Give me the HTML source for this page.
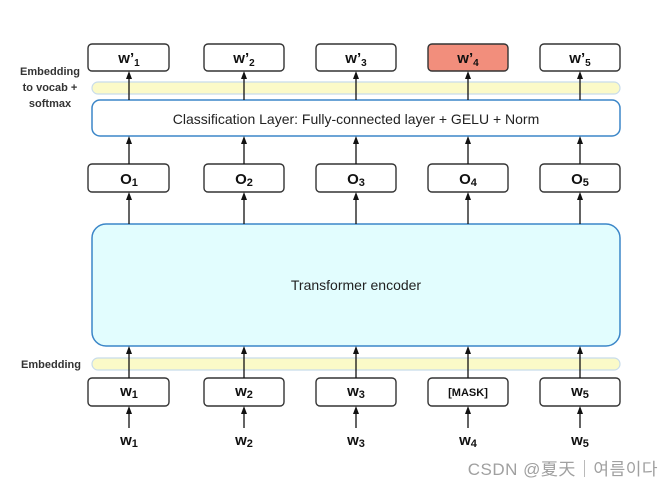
<!DOCTYPE html>
<html><head><meta charset="utf-8"><style>
body{margin:0;background:#fff;}
svg text{font-family:"Liberation Sans",sans-serif;}
</style></head><body>
<svg width="672" height="488" viewBox="0 0 672 488" xmlns="http://www.w3.org/2000/svg">
<defs><marker id="a" markerWidth="8" markerHeight="8" refX="4" refY="4" orient="auto" markerUnits="userSpaceOnUse"><path d="M0,1 L8,4 L0,7 z" fill="#111"/></marker></defs>
<rect width="672" height="488" fill="#fff"/>
<rect x="92" y="82" width="528" height="12" rx="6" fill="#fbfac8" stroke="#c8dceb" stroke-width="1.2"/>
<rect x="92" y="358" width="528" height="12" rx="6" fill="#fbfac8" stroke="#c8dceb" stroke-width="1.2"/>
<rect x="92" y="100" width="528" height="36" rx="8" fill="#fff" stroke="#3b86c8" stroke-width="1.5"/>
<text x="356" y="124" font-size="14" text-anchor="middle" fill="#222">Classification Layer: Fully-connected layer + GELU + Norm</text>
<rect x="92" y="224" width="528" height="122" rx="14" fill="#e2fdfe" stroke="#3b86c8" stroke-width="1.5"/>
<text x="356" y="290" font-size="14" text-anchor="middle" fill="#222">Transformer encoder</text>
<g font-size="11" font-weight="bold" fill="#333" text-anchor="middle">
<text x="50" y="75">Embedding</text><text x="50" y="91">to vocab +</text><text x="50" y="107">softmax</text>
</g>
<text x="51" y="368" font-size="11" font-weight="bold" fill="#333" text-anchor="middle">Embedding</text>
<g stroke="#333" stroke-width="1.4" fill="#fff">
<rect x="88" y="44" width="81" height="27" rx="4"/><rect x="204" y="44" width="80" height="27" rx="4"/><rect x="316" y="44" width="80" height="27" rx="4"/><rect x="428" y="44" width="80" height="27" rx="4" fill="#f28e7c"/><rect x="540" y="44" width="80" height="27" rx="4"/>
<rect x="88" y="164" width="81" height="28" rx="4"/><rect x="204" y="164" width="80" height="28" rx="4"/><rect x="316" y="164" width="80" height="28" rx="4"/><rect x="428" y="164" width="80" height="28" rx="4"/><rect x="540" y="164" width="80" height="28" rx="4"/>
<rect x="88" y="378" width="81" height="28" rx="4"/><rect x="204" y="378" width="80" height="28" rx="4"/><rect x="316" y="378" width="80" height="28" rx="4"/><rect x="428" y="378" width="80" height="28" rx="4"/><rect x="540" y="378" width="80" height="28" rx="4"/>
</g>
<g stroke="#111" stroke-width="1.3" marker-end="url(#a)">
<line x1="129" y1="100" x2="129" y2="75"/><line x1="244" y1="100" x2="244" y2="75"/><line x1="356" y1="100" x2="356" y2="75"/><line x1="468" y1="100" x2="468" y2="75"/><line x1="580" y1="100" x2="580" y2="75"/>
<line x1="129" y1="164" x2="129" y2="140"/><line x1="244" y1="164" x2="244" y2="140"/><line x1="356" y1="164" x2="356" y2="140"/><line x1="468" y1="164" x2="468" y2="140"/><line x1="580" y1="164" x2="580" y2="140"/>
<line x1="129" y1="224" x2="129" y2="196"/><line x1="244" y1="224" x2="244" y2="196"/><line x1="356" y1="224" x2="356" y2="196"/><line x1="468" y1="224" x2="468" y2="196"/><line x1="580" y1="224" x2="580" y2="196"/>
<line x1="129" y1="378" x2="129" y2="350"/><line x1="244" y1="378" x2="244" y2="350"/><line x1="356" y1="378" x2="356" y2="350"/><line x1="468" y1="378" x2="468" y2="350"/><line x1="580" y1="378" x2="580" y2="350"/>
<line x1="129" y1="428" x2="129" y2="410"/><line x1="244" y1="428" x2="244" y2="410"/><line x1="356" y1="428" x2="356" y2="410"/><line x1="468" y1="428" x2="468" y2="410"/><line x1="580" y1="428" x2="580" y2="410"/>
</g>
<g font-size="15" font-weight="bold" fill="#111" text-anchor="middle">
<text x="129" y="63">w’<tspan font-size="10" dy="3">1</tspan></text>
<text x="244" y="63">w’<tspan font-size="10" dy="3">2</tspan></text>
<text x="356" y="63">w’<tspan font-size="10" dy="3">3</tspan></text>
<text x="468" y="63">w’<tspan font-size="10" dy="3">4</tspan></text>
<text x="580" y="63">w’<tspan font-size="10" dy="3">5</tspan></text>
<text x="129" y="184">O<tspan font-size="11" dy="2">1</tspan></text>
<text x="244" y="184">O<tspan font-size="11" dy="2">2</tspan></text>
<text x="356" y="184">O<tspan font-size="11" dy="2">3</tspan></text>
<text x="468" y="184">O<tspan font-size="11" dy="2">4</tspan></text>
<text x="580" y="184">O<tspan font-size="11" dy="2">5</tspan></text>
<text x="129" y="396">w<tspan font-size="11" dy="2">1</tspan></text>
<text x="244" y="396">w<tspan font-size="11" dy="2">2</tspan></text>
<text x="356" y="396">w<tspan font-size="11" dy="2">3</tspan></text>
<text x="468" y="396" font-size="11">[MASK]</text>
<text x="580" y="396">w<tspan font-size="11" dy="2">5</tspan></text>
<text x="129" y="445">w<tspan font-size="11" dy="2">1</tspan></text>
<text x="244" y="445">w<tspan font-size="11" dy="2">2</tspan></text>
<text x="356" y="445">w<tspan font-size="11" dy="2">3</tspan></text>
<text x="468" y="445">w<tspan font-size="11" dy="2">4</tspan></text>
<text x="580" y="445">w<tspan font-size="11" dy="2">5</tspan></text>
</g>
<text x="658" y="475" font-size="17" letter-spacing="0.5" fill="#a0a0a0" text-anchor="end" style="font-family:'Liberation Sans','Noto Sans CJK SC','NanumGothic',sans-serif">CSDN @夏天｜여름이다</text>
</svg>
</body></html>
